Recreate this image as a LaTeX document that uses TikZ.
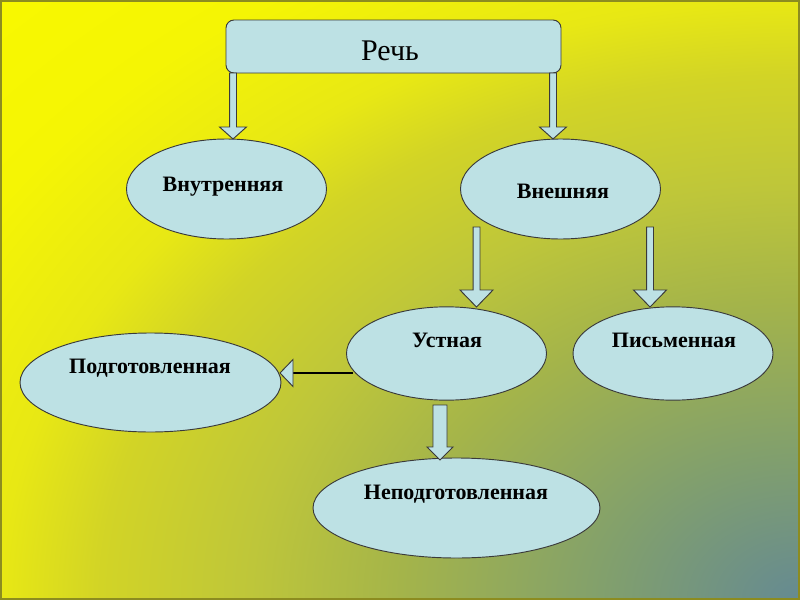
\documentclass[tikz,border=0pt]{standalone}
\usepackage{fontspec}
\setmainfont{Liberation Serif}
\usetikzlibrary{shapes.geometric,calc}
\definecolor{bgA}{HTML}{658A92}
\definecolor{bgB}{HTML}{82A06C}
\definecolor{bgC}{HTML}{A4B44A}
\definecolor{bgD}{HTML}{BEC63A}
\definecolor{bgE}{HTML}{D2D426}
\definecolor{bgF}{HTML}{E8E814}
\definecolor{bgG}{HTML}{F5F504}
\definecolor{bgH}{HTML}{F8F800}
\definecolor{nodefill}{HTML}{BDE1E4}
\definecolor{nodeline}{HTML}{3A3A3A}
\definecolor{frameline}{HTML}{8C8C20}
\pgfdeclareradialshading{bgshade}{\pgfpoint{0bp}{0bp}}{color(0bp)=(bgA); color(5bp)=(bgB); color(10bp)=(bgC); color(13.75bp)=(bgD); color(17.5bp)=(bgE); color(20bp)=(bgF); color(24bp)=(bgG); color(28bp)=(bgH); color(50bp)=(bgH)}
\tikzset{
  ell/.style={ellipse, draw=nodeline, fill=nodefill, line width=0.7pt, inner sep=0pt},
  lbl/.style={anchor=base, font=\fontsize{16.5}{18}\selectfont\bfseries, text=black, inner sep=0pt},
  blk/.style={draw=nodeline, fill=nodefill, line width=0.7pt, line join=miter},
  topbox/.style={rectangle, rounded corners=6pt, draw=nodeline, fill=nodefill, line width=0.7pt, inner sep=0pt},
}
\newcommand\blkdown[5]{%
  \draw[blk] let \p1=(#1), \p2=(#2) in
    (\x1-#3pt,\y1) -- (\x1+#3pt,\y1) -- (\x1+#3pt,\y2+#5pt) -- (\x1+#4pt,\y2+#5pt)
    -- (\x1,\y2) -- (\x1-#4pt,\y2+#5pt) -- (\x1-#3pt,\y2+#5pt) -- cycle;}
\begin{document}
\begin{tikzpicture}[x=0.75pt,y=-0.75pt]
\useasboundingbox (0,0) rectangle (800,600);
% background
\begin{scope}
  \clip (0,0) rectangle (800,600);
  \shade[shading=bgshade] (-200,-150) rectangle (1800,1350);
\end{scope}
\draw[frameline, line width=1.2pt] (0.8,0.8) rectangle (799.2,599.2);

% nodes
\node[topbox, minimum width=251.25pt, minimum height=39.75pt] (rech) at (393.5,46.5) {};
\node[anchor=base, font=\fontsize{22.5}{26}\selectfont, inner sep=0pt] (rechT) at (390,60) {Речь};

\node[ell, minimum width=150pt, minimum height=75pt] (vnutr) at (226.5,189) {};
\node[lbl] (vnutrT) at (223,191) {Внутренняя};

\node[ell, minimum width=150pt, minimum height=75pt] (vnesh) at (560.5,189) {};
\node[lbl] (vneshT) at (563,198) {Внешняя};

\node[ell, minimum width=150pt, minimum height=70pt] (ustn) at (446.5,353.5) {};
\node[lbl] (ustnT) at (447,347) {Устная};

\node[ell, minimum width=150pt, minimum height=70pt] (pism) at (673,353.5) {};
\node[lbl] (pismT) at (674,347) {Письменная};

\node[ell, minimum width=195.75pt, minimum height=74.25pt] (podg) at (150.5,382.5) {};
\node[lbl] (podgT) at (150,373) {Подготовленная};

\node[ell, minimum width=215.25pt, minimum height=75pt] (nepodg) at (456.5,508) {};
\node[lbl] (nepodgT) at (456,499) {Неподготовленная};

% connector coordinates
\coordinate (a1s) at (233,73);  \coordinate (a1t) at (233,139);
\coordinate (a2s) at (553,73);  \coordinate (a2t) at (553,139);
\coordinate (a3s) at (476.5,227); \coordinate (a3t) at (476.5,307);
\coordinate (a4s) at (650,227); \coordinate (a4t) at (650,307);
\coordinate (a5s) at (440,405); \coordinate (a5t) at (440,460);
\coordinate (lstart) at (353,373); \coordinate (lbase) at (293,373); \coordinate (ltip) at (280,373);

% block arrows
\blkdown{a1s}{a1t}{2.6}{10.1}{9}
\blkdown{a2s}{a2t}{2.6}{10.1}{9}
\blkdown{a3s}{a3t}{2.6}{12.4}{12.75}
\blkdown{a4s}{a4t}{2.6}{12.4}{12.75}
\blkdown{a5s}{a5t}{5.25}{9.75}{9.75}

% line arrow to Подготовленная
\draw[black, line width=1.1pt] (lstart) -- (lbase);
\draw[blk] (ltip) -- ++(13,-13.5) -- ++(0,27) -- cycle;
\end{tikzpicture}
\end{document}
